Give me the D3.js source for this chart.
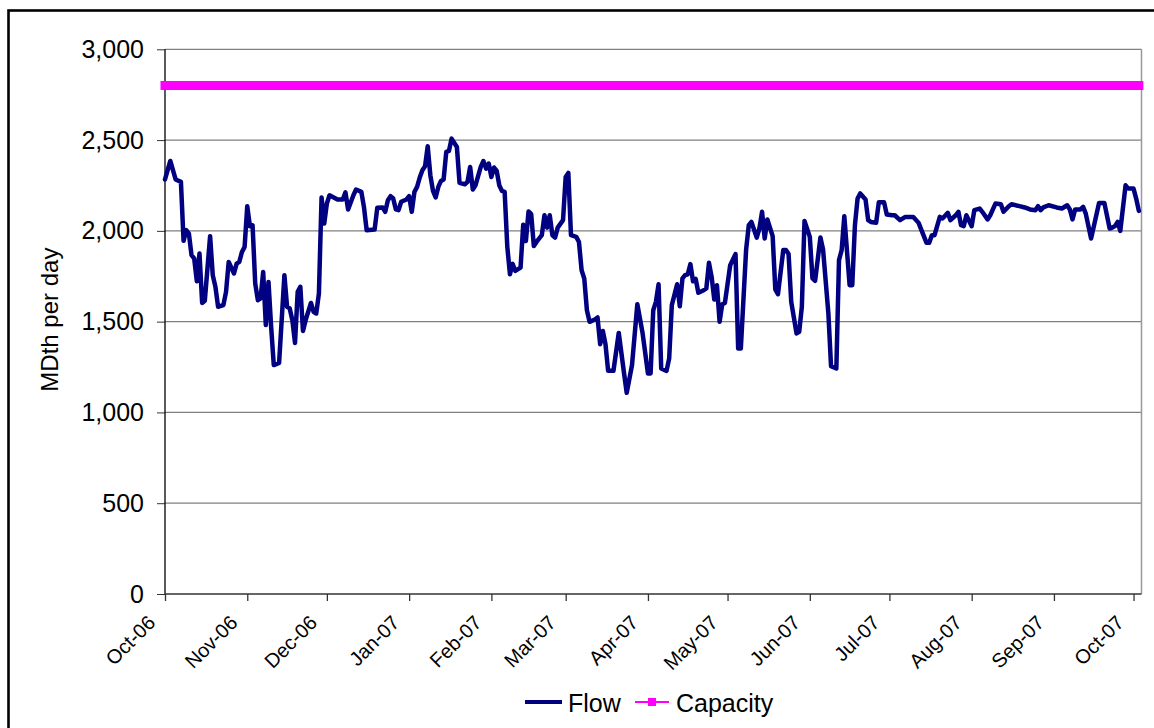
<!DOCTYPE html>
<html>
<head>
<meta charset="utf-8">
<script src="https://cdn.jsdelivr.net/npm/d3@7"></script>
<style>
  body { margin: 0; background: #fff; }
  svg { display: block; font-family: "Liberation Sans", Arial, sans-serif; }
</style>
</head>
<body>
<svg id="chart" width="1154" height="728"></svg>
<script>
// Daily pipeline flow, MDth per day
const flow = [
  ["2006-10-01",2283],["2006-10-03",2385],["2006-10-04",2334],["2006-10-05",2283],["2006-10-07",2270],
  ["2006-10-08",1945],["2006-10-09",2004],["2006-10-10",1985],["2006-10-11",1866],["2006-10-12",1848],
  ["2006-10-13",1723],["2006-10-14",1875],["2006-10-15",1603],["2006-10-16",1615],["2006-10-18",1971],
  ["2006-10-19",1756],["2006-10-20",1692],["2006-10-21",1582],["2006-10-23",1591],["2006-10-24",1664],
  ["2006-10-25",1829],["2006-10-27",1765],["2006-10-28",1820],["2006-10-29",1829],["2006-10-30",1884],
  ["2006-10-31",1912],["2006-11-01",2136],["2006-11-02",2026],["2006-11-03",2031],["2006-11-04",1710],
  ["2006-11-05",1618],["2006-11-06",1628],["2006-11-07",1774],["2006-11-08",1481],["2006-11-09",1719],
  ["2006-11-10",1471],["2006-11-11",1261],["2006-11-13",1273],["2006-11-15",1756],["2006-11-16",1582],
  ["2006-11-17",1573],["2006-11-18",1508],["2006-11-19",1383],["2006-11-20",1664],["2006-11-21",1692],
  ["2006-11-22",1449],["2006-11-23",1508],["2006-11-25",1603],["2006-11-26",1554],["2006-11-27",1545],
  ["2006-11-28",1655],["2006-11-29",2184],["2006-11-30",2040],["2006-12-01",2151],["2006-12-02",2196],
  ["2006-12-05",2173],["2006-12-07",2173],["2006-12-08",2212],["2006-12-09",2118],["2006-12-11",2196],
  ["2006-12-12",2228],["2006-12-14",2215],["2006-12-15",2129],["2006-12-16",2004],["2006-12-19",2008],
  ["2006-12-20",2127],["2006-12-22",2129],["2006-12-23",2105],["2006-12-24",2169],["2006-12-25",2191],
  ["2006-12-26",2178],["2006-12-27",2118],["2006-12-28",2114],["2006-12-29",2160],["2006-12-31",2173],
  ["2007-01-01",2191],["2007-01-02",2105],["2007-01-03",2215],["2007-01-04",2242],["2007-01-05",2294],
  ["2007-01-06",2334],["2007-01-07",2356],["2007-01-08",2466],["2007-01-09",2306],["2007-01-10",2220],
  ["2007-01-11",2184],["2007-01-12",2242],["2007-01-13",2275],["2007-01-14",2283],["2007-01-15",2435],
  ["2007-01-16",2440],["2007-01-17",2508],["2007-01-19",2462],["2007-01-20",2264],["2007-01-22",2257],
  ["2007-01-23",2270],["2007-01-24",2352],["2007-01-25",2228],["2007-01-26",2251],["2007-01-28",2352],
  ["2007-01-29",2385],["2007-01-30",2343],["2007-01-31",2371],["2007-02-01",2297],["2007-02-02",2349],
  ["2007-02-03",2330],["2007-02-04",2250],["2007-02-05",2220],["2007-02-06",2215],["2007-02-07",1912],
  ["2007-02-08",1761],["2007-02-09",1818],["2007-02-10",1780],["2007-02-12",1798],["2007-02-13",2034],
  ["2007-02-14",1944],["2007-02-15",2107],["2007-02-16",2092],["2007-02-17",1916],["2007-02-18",1939],
  ["2007-02-20",1976],["2007-02-21",2086],["2007-02-22",2018],["2007-02-23",2086],["2007-02-24",1976],
  ["2007-02-25",1963],["2007-02-26",2018],["2007-02-28",2059],["2007-03-01",2297],["2007-03-02",2319],
  ["2007-03-03",1976],["2007-03-05",1967],["2007-03-06",1939],["2007-03-07",1783],["2007-03-08",1738],
  ["2007-03-09",1563],["2007-03-10",1499],["2007-03-12",1512],["2007-03-13",1523],["2007-03-14",1376],
  ["2007-03-15",1449],["2007-03-16",1376],["2007-03-17",1229],["2007-03-19",1229],["2007-03-21",1438],
  ["2007-03-23",1215],["2007-03-24",1108],["2007-03-26",1261],["2007-03-28",1596],["2007-03-30",1435],
  ["2007-04-01",1215],["2007-04-02",1215],["2007-04-03",1563],["2007-04-04",1609],["2007-04-05",1706],
  ["2007-04-06",1242],["2007-04-08",1229],["2007-04-09",1297],["2007-04-10",1591],["2007-04-12",1706],
  ["2007-04-13",1585],["2007-04-14",1738],["2007-04-15",1756],["2007-04-16",1761],["2007-04-17",1817],
  ["2007-04-18",1722],["2007-04-19",1735],["2007-04-20",1659],["2007-04-22",1673],["2007-04-23",1683],
  ["2007-04-24",1824],["2007-04-25",1747],["2007-04-26",1622],["2007-04-27",1701],["2007-04-28",1499],
  ["2007-04-29",1596],["2007-04-30",1603],["2007-05-02",1811],["2007-05-04",1872],["2007-05-05",1352],
  ["2007-05-06",1352],["2007-05-08",1897],["2007-05-09",2031],["2007-05-10",2049],["2007-05-12",1963],
  ["2007-05-13",2013],["2007-05-14",2105],["2007-05-15",1958],["2007-05-16",2063],["2007-05-18",1971],
  ["2007-05-19",1677],["2007-05-20",1651],["2007-05-22",1894],["2007-05-23",1894],["2007-05-24",1872],
  ["2007-05-25",1609],["2007-05-27",1435],["2007-05-28",1444],["2007-05-29",1582],["2007-05-30",2055],
  ["2007-06-01",1967],["2007-06-02",1738],["2007-06-03",1725],["2007-06-05",1963],["2007-06-06",1897],
  ["2007-06-08",1545],["2007-06-09",1255],["2007-06-11",1242],["2007-06-12",1839],["2007-06-13",1894],
  ["2007-06-14",2081],["2007-06-16",1701],["2007-06-17",1701],["2007-06-18",2031],["2007-06-19",2178],
  ["2007-06-20",2206],["2007-06-22",2173],["2007-06-23",2059],["2007-06-24",2049],["2007-06-26",2045],
  ["2007-06-27",2157],["2007-06-29",2157],["2007-06-30",2090],["2007-07-02",2086],["2007-07-03",2086],
  ["2007-07-05",2059],["2007-07-07",2077],["2007-07-10",2077],["2007-07-12",2044],["2007-07-13",2007],
  ["2007-07-15",1934],["2007-07-16",1934],["2007-07-17",1976],["2007-07-18",1976],["2007-07-20",2077],
  ["2007-07-21",2068],["2007-07-23",2099],["2007-07-24",2059],["2007-07-26",2086],["2007-07-27",2105],
  ["2007-07-28",2031],["2007-07-29",2026],["2007-07-30",2086],["2007-08-01",2026],["2007-08-02",2114],
  ["2007-08-04",2123],["2007-08-05",2105],["2007-08-07",2063],["2007-08-08",2086],["2007-08-10",2151],
  ["2007-08-12",2147],["2007-08-13",2105],["2007-08-15",2136],["2007-08-16",2147],["2007-08-19",2136],
  ["2007-08-21",2129],["2007-08-23",2118],["2007-08-25",2114],["2007-08-26",2136],["2007-08-27",2114],
  ["2007-08-28",2129],["2007-08-30",2141],["2007-09-02",2129],["2007-09-04",2123],["2007-09-06",2141],
  ["2007-09-07",2118],["2007-09-08",2063],["2007-09-09",2118],["2007-09-11",2118],["2007-09-12",2132],
  ["2007-09-13",2095],["2007-09-15",1958],["2007-09-16",2022],["2007-09-18",2154],["2007-09-20",2154],
  ["2007-09-22",2013],["2007-09-23",2018],["2007-09-24",2026],["2007-09-25",2049],["2007-09-26",2000],
  ["2007-09-28",2251],["2007-09-29",2233],["2007-10-01",2233],["2007-10-02",2178],["2007-10-03",2110]
];

// Firm pipeline capacity over the same period
const capacity = [["2006-10-01",2800],["2007-10-03",2800]];

const monthTicks = ["2006-10-01","2006-11-01","2006-12-01","2007-01-01","2007-02-01","2007-03-01",
  "2007-04-01","2007-05-01","2007-06-01","2007-07-01","2007-08-01","2007-09-01","2007-10-01"];
const valueTicks = [0,500,1000,1500,2000,2500,3000];
const dateRange = ["2006-10-01","2007-10-04"];
const seriesNames = ["Flow","Capacity"];
const axisTitle = "MDth per day";

const parse = d3.timeParse("%Y-%m-%d");
const svg = d3.select("#chart");

const plot = { left: 165, right: 1141.5, top: 49.3, bottom: 594 };

const x = d3.scaleTime()
  .domain(dateRange.map(parse))
  .range([plot.left, plot.right]);
const y = d3.scaleLinear()
  .domain([0, 3000])
  .range([plot.bottom, plot.top]);

// outer chart frame
svg.append("rect")
  .attr("x", 8.5).attr("y", 10.5)
  .attr("width", 1160).attr("height", 740)
  .attr("fill", "#fff").attr("stroke", "#000").attr("stroke-width", 2.6);

// horizontal gridlines
svg.append("g").selectAll("line")
  .data(valueTicks.filter(v => v > 0))
  .join("line")
  .attr("x1", plot.left).attr("x2", plot.right)
  .attr("y1", d => y(d)).attr("y2", d => y(d))
  .attr("stroke", "#808080").attr("stroke-width", 1.2);

// right edge of plot area
svg.append("line")
  .attr("x1", plot.right).attr("x2", plot.right)
  .attr("y1", plot.top).attr("y2", plot.bottom)
  .attr("stroke", "#999").attr("stroke-width", 1.5);

// y axis
const yAxis = svg.append("g")
  .attr("transform", `translate(${plot.left},0)`)
  .call(d3.axisLeft(y).tickValues(valueTicks).tickSize(8).tickPadding(13).tickFormat(d3.format(",")));
yAxis.select(".domain").remove();
yAxis.selectAll(".tick line").attr("stroke", "#333");
yAxis.selectAll("text").attr("font-size", 25).attr("fill", "#000")
  .attr("font-family", "Liberation Sans, Arial, sans-serif");
svg.append("line")
  .attr("x1", plot.left).attr("x2", plot.left)
  .attr("y1", plot.top).attr("y2", plot.bottom)
  .attr("stroke", "#000").attr("stroke-width", 1.3);

// x axis
const fmt = d3.timeFormat("%b-%y");
const xAxis = svg.append("g")
  .attr("transform", `translate(0,${plot.bottom})`)
  .call(d3.axisBottom(x).tickValues(monthTicks.map(parse)).tickSize(7).tickFormat(fmt));
xAxis.select(".domain").remove();
xAxis.selectAll(".tick line").attr("stroke", "#333").attr("stroke-width", 1.3);
xAxis.selectAll("text")
  .attr("x", 0).attr("y", 0).attr("dy", 0)
  .attr("transform", "translate(-9,30) rotate(-45)")
  .attr("text-anchor", "end")
  .attr("font-size", 20).attr("fill", "#000")
  .attr("font-family", "Liberation Sans, Arial, sans-serif");
svg.append("line")
  .attr("x1", plot.left).attr("x2", plot.right)
  .attr("y1", plot.bottom).attr("y2", plot.bottom)
  .attr("stroke", "#333").attr("stroke-width", 1.6);

// y axis title
svg.append("text")
  .attr("transform", `translate(58,${(plot.top + plot.bottom) / 2 - 2}) rotate(-90)`)
  .attr("text-anchor", "middle")
  .attr("font-size", 24)
  .text(axisTitle);

// capacity series
const line = d3.line().x(d => x(parse(d[0]))).y(d => y(d[1]));
svg.append("path")
  .datum(capacity)
  .attr("d", line)
  .attr("fill", "none")
  .attr("stroke", "#ff00ff")
  .attr("stroke-width", 9)
  .attr("stroke-linecap", "square");

// flow series
svg.append("path")
  .datum(flow)
  .attr("d", line)
  .attr("fill", "none")
  .attr("stroke", "#000080")
  .attr("stroke-width", 4.5)
  .attr("stroke-linejoin", "round")
  .attr("stroke-linecap", "round");

// legend
const legend = svg.append("g");
legend.append("line")
  .attr("x1", 525).attr("x2", 562).attr("y1", 702).attr("y2", 702)
  .attr("stroke", "#000080").attr("stroke-width", 4);
legend.append("text")
  .attr("x", 568).attr("y", 711.5).attr("font-size", 25)
  .text(seriesNames[0]);
legend.append("line")
  .attr("x1", 635).attr("x2", 669).attr("y1", 702).attr("y2", 702)
  .attr("stroke", "#ff00ff").attr("stroke-width", 2);
legend.append("rect")
  .attr("x", 648).attr("y", 698).attr("width", 8).attr("height", 8)
  .attr("fill", "#ff00ff");
legend.append("text")
  .attr("x", 676).attr("y", 711.5).attr("font-size", 25)
  .text(seriesNames[1]);
</script>
</body>
</html>
